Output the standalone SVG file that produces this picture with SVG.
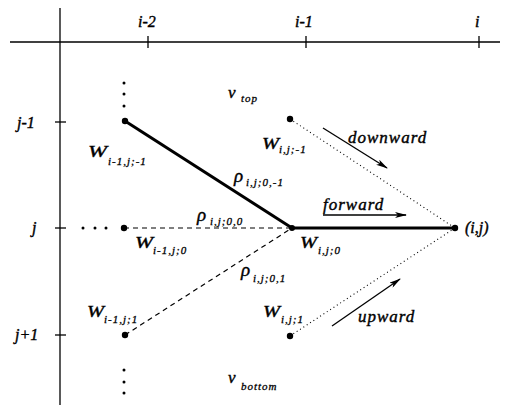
<svg xmlns="http://www.w3.org/2000/svg" width="505" height="405" viewBox="0 0 505 405">
<style>
text{font-family:"Liberation Serif","Times New Roman",serif;font-style:italic;fill:#000;stroke:#000;stroke-width:0.4}
.lab{font-size:16px}
.big{font-size:17px}
.gr{font-size:19px}
.sub{font-size:11px;letter-spacing:1px;stroke-width:0.3}
.word{font-size:17px;letter-spacing:1px}
.axis{stroke:#000;stroke-width:1.3;fill:none}
.thick{stroke:#000;stroke-width:3;fill:none}
.dash{stroke:#000;stroke-width:1.2;stroke-dasharray:5 4;fill:none}
.dot{stroke:#000;stroke-width:1.1;stroke-dasharray:1 3;fill:none}
.arr{stroke:#000;stroke-width:1.3;fill:none;marker-end:url(#ah)}
</style>
<defs>
<marker id="ah" viewBox="0 0 12 6" refX="11" refY="3" markerWidth="12" markerHeight="6" markerUnits="userSpaceOnUse" orient="auto">
<path d="M0,0 L12,3 L0,6 L3,3 Z" fill="#000"/>
</marker>
</defs>
<rect width="505" height="405" fill="#fff"/>
<g id="axes">
<line class="axis" x1="10" y1="42" x2="500" y2="42"/>
<line class="axis" x1="60" y1="8" x2="60" y2="405"/>
<line class="axis" x1="148" y1="36" x2="148" y2="48"/>
<line class="axis" x1="306" y1="36" x2="306" y2="48"/>
<line class="axis" x1="479" y1="36" x2="479" y2="48"/>
<line class="axis" x1="55" y1="122" x2="66" y2="122"/>
<line class="axis" x1="55" y1="228" x2="66" y2="228"/>
<line class="axis" x1="55" y1="335" x2="66" y2="335"/>
<text class="lab" x="138" y="27">i-2</text>
<text class="lab" x="295" y="27">i-1</text>
<text class="lab" x="475" y="27">i</text>
<text class="lab" x="17" y="128">j-1</text>
<text class="lab" x="32" y="233">j</text>
<text class="lab" x="15" y="340">j+1</text>
</g>
<g id="connectors">
<line class="thick" x1="125" y1="121" x2="292" y2="228"/>
<line class="thick" x1="292" y1="228" x2="455" y2="228"/>
<line class="dash" x1="124" y1="228" x2="292" y2="228"/>
<line class="dash" x1="125" y1="335" x2="292" y2="228"/>
<line class="dot" x1="290" y1="119" x2="455" y2="228"/>
<line class="dot" x1="290" y1="336" x2="455" y2="228"/>
<line class="arr" x1="323" y1="128" x2="387" y2="168"/>
<line class="arr" x1="323" y1="215" x2="406" y2="215"/>
<line class="arr" x1="332" y1="326" x2="400" y2="279"/>
</g>
<g id="node-Wim1-jm1">
<circle cx="125" cy="121" r="3.2"/>
<text class="big" x="88" y="157" textLength="19" lengthAdjust="spacingAndGlyphs">W</text><text class="sub" x="108" y="165">i-1,j;-1</text>
</g>
<g id="node-Wi-jm1">
<circle cx="290" cy="119" r="3.2"/>
<text class="big" x="262" y="149" textLength="17" lengthAdjust="spacingAndGlyphs">W</text><text class="sub" x="279" y="153">i,j;-1</text>
</g>
<g id="node-Wim1-j0">
<circle cx="124" cy="228" r="3.2"/>
<text class="big" x="135" y="248" textLength="18" lengthAdjust="spacingAndGlyphs">W</text><text class="sub" x="153" y="254">i-1,j;0</text>
</g>
<g id="node-Wi-j0">
<circle cx="292" cy="228" r="3"/>
<text class="big" x="300" y="248" textLength="17" lengthAdjust="spacingAndGlyphs">W</text><text class="sub" x="318" y="254">i,j;0</text>
</g>
<g id="node-ij">
<circle cx="455" cy="228" r="3.2"/>
<text class="lab" x="465" y="233">(i,j)</text>
</g>
<g id="node-Wim1-jp1">
<circle cx="125" cy="335" r="3.2"/>
<text class="big" x="87" y="317" textLength="17" lengthAdjust="spacingAndGlyphs">W</text><text class="sub" x="104" y="323">i-1,j;1</text>
</g>
<g id="node-Wi-jp1">
<circle cx="290" cy="336" r="3.2"/>
<text class="big" x="263" y="317" textLength="17" lengthAdjust="spacingAndGlyphs">W</text><text class="sub" x="281" y="323">i,j;1</text>
</g>
<g id="ellipses">
<circle cx="124" cy="83" r="1.5"/><circle cx="124" cy="94" r="1.5"/><circle cx="124" cy="106" r="1.5"/>
<circle cx="124" cy="370" r="1.5"/><circle cx="124" cy="382" r="1.5"/><circle cx="124" cy="393" r="1.5"/>
<circle cx="83" cy="228" r="1.5"/><circle cx="95" cy="228" r="1.5"/><circle cx="106" cy="228" r="1.5"/>
</g>
<g id="labels">
<text class="big" x="228" y="98">v</text><text class="sub" x="241" y="102">top</text>
<text class="big" x="228" y="383">v</text><text class="sub" x="241" y="390">bottom</text>
<text class="gr" x="234" y="182">ρ</text><text class="sub" x="246" y="186">i,j;0,-1</text>
<text class="gr" x="197" y="221">ρ</text><text class="sub" x="210" y="225">i,j;0,0</text>
<text class="gr" x="241" y="276">ρ</text><text class="sub" x="253" y="282">i,j;0,1</text>
<text class="word" x="348" y="143">downward</text>
<text class="word" x="323" y="210">forward</text>
<text class="word" x="358" y="322">upward</text>
</g>
</svg>
